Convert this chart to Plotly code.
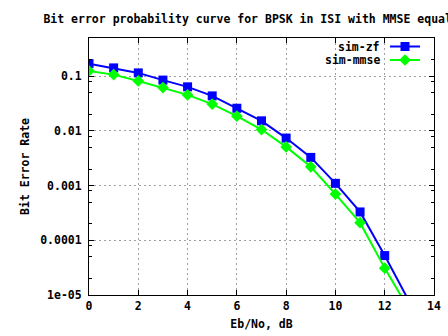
import plotly.graph_objects as go

# ---- data ----
ebno_db = [0, 1, 2, 3, 4, 5, 6, 7, 8, 9, 10, 11, 12, 13]
ber_zf = [0.17, 0.142, 0.115, 0.085, 0.064, 0.0437, 0.026, 0.0153, 0.0074,
          0.00328, 0.0011, 0.00033, 5.26e-5, 7.5e-6]
ber_mmse = [0.125, 0.107, 0.082, 0.062, 0.0456, 0.031, 0.0186, 0.0106, 0.0051,
            0.00221, 0.0007, 0.00021, 3.1e-5, 5.3e-6]
series_names = ["sim-zf", "sim-mmse"]
x_tickvals = [0, 2, 4, 6, 8, 10, 12, 14]
x_ticktext = ["0", "2", "4", "6", "8", "10", "12", "14"]
y_tickvals = [0.1, 0.01, 0.001, 0.0001, 1e-05]
y_ticktext = ["0.1", "0.01", "0.001", "0.0001", "1e-05"]
title_text = "Bit error probability curve for BPSK in ISI with MMSE equalizer"
x_title = "Eb/No, dB"
y_title = "Bit Error Rate"

minor_y = [m * 10.0 ** e for e in range(-5, 0) for m in (2, 5, 8)]

FONT = "DejaVu Sans Mono"
fs = 11.5
bold = dict(family=FONT, size=fs, color="black", weight="bold")

L, R, T, B = 89, 14, 38, 41
PW, PH = 448 - L - R, 336 - T - B

fig = go.Figure()
fig.add_trace(go.Scatter(
    x=ebno_db, y=ber_zf, mode="lines+markers", name="", showlegend=True,
    line=dict(color="#0000ff", width=2),
    marker=dict(symbol="square", size=9, color="#0000ff"),
    legend="legend"))
fig.add_trace(go.Scatter(
    x=ebno_db, y=ber_mmse, mode="lines+markers", name="", showlegend=True,
    line=dict(color="#00ff00", width=2),
    marker=dict(symbol="diamond", size=9, color="#00ff00"),
    legend="legend2"))

axis_common = dict(
    showline=True, linecolor="black", linewidth=1, mirror="allticks",
    ticks="inside", ticklen=5, tickcolor="black", tickwidth=1,
    showgrid=True, gridcolor="#a0a0a0", gridwidth=1, griddash="2px,3px",
    zeroline=False, automargin=False,
    tickfont=bold,
)

fig.update_layout(
    width=448, height=336,
    margin=dict(l=L, r=R, t=T, b=B),
    paper_bgcolor="white", plot_bgcolor="white",
    showlegend=True,
    title=dict(text=title_text, x=(L + 448 - R) / 2 / 448, xanchor="center",
               y=1 - 19 / 336, yanchor="middle", font=bold),
    xaxis=dict(range=[0, 14], tickmode="array", tickvals=x_tickvals,
               ticktext=x_ticktext, ticklabelstandoff=0,
               title=dict(text=x_title, standoff=8, font=bold),
               **axis_common),
    yaxis=dict(type="log", range=[-5, -0.30103], tickmode="array",
               tickvals=y_tickvals, ticktext=y_ticktext, ticklabelstandoff=4,
               minor=dict(tickvals=minor_y, ticks="inside", ticklen=3,
                          tickcolor="black", showgrid=False),
               title=dict(text=y_title, standoff=8, font=bold),
               **axis_common),
    legend=dict(x=(385 - L) / PW, y=1 - (46.5 - T) / PH, xanchor="left",
                yanchor="middle", bgcolor="rgba(0,0,0,0)", borderwidth=0,
                font=dict(family=FONT, size=fs)),
    legend2=dict(x=(385 - L) / PW, y=1 - (60 - T) / PH, xanchor="left",
                 yanchor="middle", bgcolor="rgba(0,0,0,0)", borderwidth=0,
                 font=dict(family=FONT, size=fs)),
)

# legend labels (right-aligned text to the left of each legend sample)
for name, yy in zip(series_names, [46.5, 60]):
    fig.add_annotation(text=name, xref="paper", yref="paper",
                       x=(382 - L) / PW, y=1 - (yy - T) / PH,
                       xanchor="right", yanchor="middle", showarrow=False,
                       font=bold)

fig.write_html("out.html")
